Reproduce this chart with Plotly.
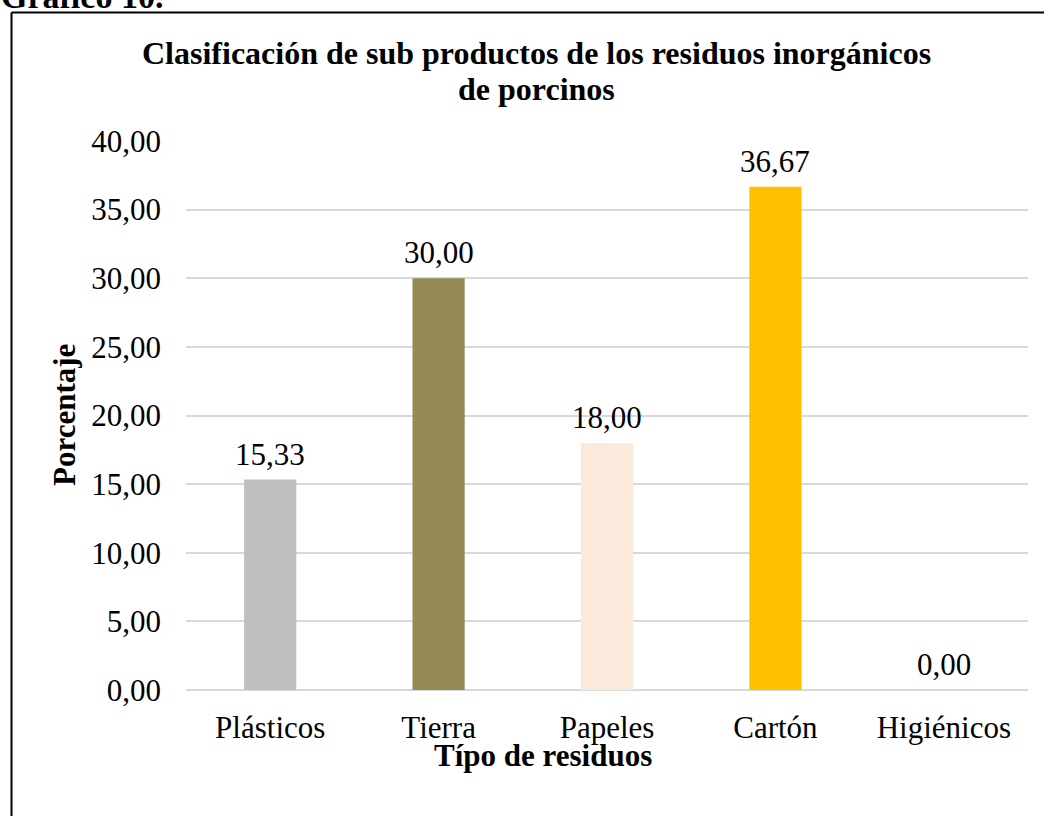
import plotly.graph_objects as go

categories = ["Plásticos", "Tierra", "Papeles", "Cartón", "Higiénicos"]
values = [15.33, 30.00, 18.00, 36.67, 0.00]
colors = ["#BFBFBF", "#948A54", "#FBE9DB", "#FFC000", "#4472C4"]
y_ticks = [0, 5, 10, 15, 20, 25, 30, 35, 40]
title_lines = ["Clasificación de sub productos de los residuos inorgánicos", "de porcinos"]

W, H = 1044, 816
FONT = "Liberation Serif, Times New Roman, serif"
FS = 31

def px_x(p):
    return p / W

def px_y(p):
    return 1 - p / H

fig = go.Figure()
fig.add_trace(go.Bar(
    x=categories, y=values, marker=dict(color=colors, line=dict(width=0)),
    hoverinfo="skip", showlegend=False,
))

annotations = []
for c, v in zip(categories, values):
    annotations.append(dict(
        x=c, y=v, xref="x", yref="y", text=f"{v:.2f}".replace(".", ","),
        showarrow=False, yanchor="bottom", yshift=6,
        font=dict(family=FONT, size=FS, color="black"),
    ))

for line, ypx in zip(title_lines, [53, 89]):
    annotations.append(dict(
        x=px_x(536), y=px_y(ypx), xref="paper", yref="paper",
        text=f"<b>{line}</b>", showarrow=False,
        xanchor="center", yanchor="middle",
        font=dict(family=FONT, size=32, color="black")))

annotations += [
    dict(x=px_x(543), y=px_y(755), xref="paper", yref="paper",
         text="<b>Típo de residuos</b>", showarrow=False,
         xanchor="center", yanchor="middle",
         font=dict(family=FONT, size=FS, color="black")),
    dict(x=px_x(64), y=px_y(415), xref="paper", yref="paper",
         text="<b>Porcentaje</b>", showarrow=False, textangle=-90,
         xanchor="center", yanchor="middle",
         font=dict(family=FONT, size=FS, color="black")),
    dict(x=0, y=px_y(16), xref="paper", yref="paper",
         text="<b>Gráfico 10.</b>", showarrow=False,
         xanchor="left", yanchor="bottom", borderpad=0,
         font=dict(family=FONT, size=34, color="black")),
]

border_x = px_x(11.5)
border_y = px_y(12.5)

fig.update_layout(
    width=W, height=H,
    margin=dict(l=0, r=0, t=0, b=0, pad=0, autoexpand=False),
    paper_bgcolor="white", plot_bgcolor="white",
    separators=",.",
    bargap=0.69,
    font=dict(family=FONT, size=FS, color="black"),
    annotations=annotations,
    shapes=[
        dict(type="line", xref="paper", yref="paper",
             x0=border_x, x1=1, y0=border_y, y1=border_y,
             line=dict(color="black", width=2), layer="above"),
        dict(type="line", xref="paper", yref="paper",
             x0=border_x, x1=border_x, y0=0, y1=border_y,
             line=dict(color="black", width=2), layer="above"),
    ],
    xaxis=dict(domain=[px_x(186), px_x(1028)], showgrid=False,
               showline=False, zeroline=False, ticks="", automargin=False,
               ticklabelstandoff=16,
               tickfont=dict(family=FONT, size=FS, color="black")),
    yaxis=dict(domain=[px_y(690), px_y(141)], range=[0, 40],
               tickvals=y_ticks, tickformat=".2f", automargin=False,
               showgrid=True, gridcolor="#D9D9D9", gridwidth=2,
               zeroline=True, zerolinecolor="#D9D9D9", zerolinewidth=2,
               showline=False, ticks="", ticklabelstandoff=24,
               tickfont=dict(family=FONT, size=FS, color="black")),
)

post = (
    "document.body.style.margin='0';"
    "document.body.style.overflow='hidden';"
)

fig.write_html("out.html", config={"displayModeBar": False}, post_script=post)
